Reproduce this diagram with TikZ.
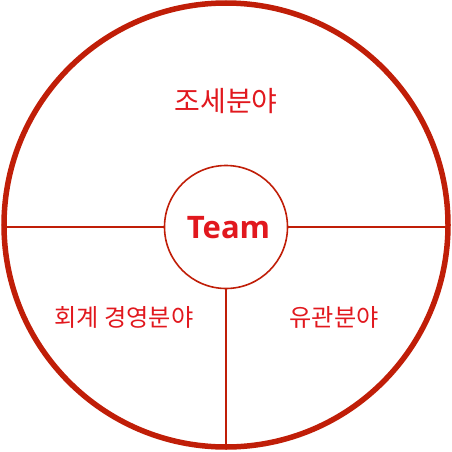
\documentclass[tikz,border=0pt]{standalone}
\usepackage{fontspec}
\setmainfont{Noto Sans}
\newfontfamily\kr{Noto Sans CJK KR}
\newfontfamily\teamfont{Open Sans}[BoldFont={* Bold}]
\definecolor{linered}{RGB}{192,30,8}
\definecolor{textred}{RGB}{225,24,30}
\begin{document}
\begin{tikzpicture}[x=1pt,y=-1pt,
  ring/.style={circle,draw=linered,line width=5.5pt,minimum size=444pt,inner sep=0pt,outer sep=0pt},
  hub/.style={circle,draw=linered,line width=1.6pt,minimum size=123pt,inner sep=0pt,outer sep=0pt},
  divider/.style={draw=linered,line width=2pt},
  field/.style={text=textred,inner sep=0pt,font=\kr\fontsize{24.2}{27}\selectfont},
  title/.style={text=textred,inner sep=0pt,font=\teamfont\bfseries\fontsize{31}{34}\selectfont}]
\useasboundingbox (0,0) rectangle (452,452);
\node[ring] (outer) at (226,225) {};
\node[hub] (inner) at (226,227) {};
\path[divider] (inner.west) -- (outer.west |- inner.west);
\path[divider] (inner.east) -- (outer.east |- inner.east);
\path[divider] (inner.south) -- (outer.south);
\node[title,anchor=base] (team) at (228.5,238.3) {Team};
\node[field,font=\kr\fontsize{28}{31}\selectfont] (tax) at (226,101) {조세분야};
\node[field] (acct) at (124,317) {회계 경영분야};
\node[field] (customs) at (334,317) {유관분야};
\end{tikzpicture}
\end{document}
